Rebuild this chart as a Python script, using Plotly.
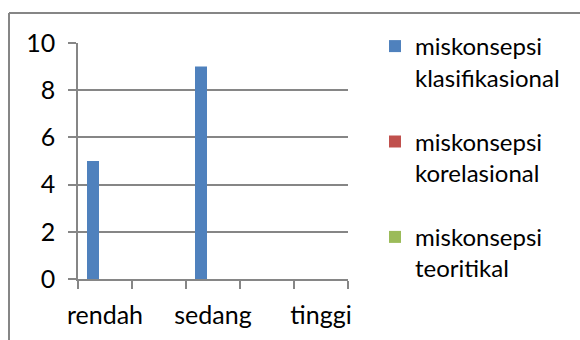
import plotly.graph_objects as go

# Data
positions = [0, 1, 2, 3, 4]
tick_labels = ["rendah", "", "sedang", "", "tinggi"]
series_names = [
    "miskonsepsi<br>klasifikasional",
    "miskonsepsi<br>korelasional",
    "miskonsepsi<br>teoritikal",
]
klasifikasional = [5, 0, 9, 0, 0]
korelasional = [0, 0, 0, 0, 0]
teoritikal = [0, 0, 0, 0, 0]
colors = ["#4F81BD", "#C0504D", "#9BBB59"]

FONT = "Lato, 'Open Sans', sans-serif"
GRAY = "#868686"
FS = 25
LFS = 24

fig = go.Figure()
for i, (name, vals) in enumerate(zip(series_names, [klasifikasional, korelasional, teoritikal])):
    fig.add_trace(go.Bar(
        x=positions, y=vals, name=name,
        marker=dict(color=colors[i], line=dict(width=0)),
        legendgroup=f"g{i}",
    ))

W, H = 580, 340

def px_x(p):
    return p / W

def px_y(p):
    return 1 - p / H

frame_axis = dict(showline=True, linecolor=GRAY, linewidth=2, showgrid=False,
                  zeroline=False, showticklabels=False, ticks="", fixedrange=True,
                  automargin=False)

fig.update_layout(
    width=W, height=H,
    margin=dict(l=0, r=0, t=0, b=0, pad=0),
    autosize=False,
    paper_bgcolor="white", plot_bgcolor="rgba(0,0,0,0)",
    barmode="group", bargap=1/3, bargroupgap=0,
    font=dict(family=FONT, size=FS, color="black"),
    showlegend=True,
    legend=dict(
        x=px_x(375), y=px_y(24), xanchor="left", yanchor="top",
        xref="paper", yref="paper",
        font=dict(family=FONT, size=LFS, color="black"),
        tracegroupgap=30, valign="top",
        itemwidth=30, bgcolor="rgba(0,0,0,0)",
        traceorder="grouped",
    ),
    xaxis=dict(
        domain=[px_x(78), px_x(348)],
        range=[-0.5, 4.5],
        tickvals=positions, ticktext=tick_labels, tickangle=0,
        ticks="", showgrid=False,
        showline=True, linecolor=GRAY, linewidth=1.5,
        zeroline=False, automargin=False,
        minor=dict(ticks="outside", tickvals=[-0.5, 0.5, 1.5, 2.5, 3.5, 4.5],
                   ticklen=8, tickcolor=GRAY, tickwidth=1.5, showgrid=False),
        ticklabelstandoff=13,
        tickfont=dict(family=FONT, size=FS, color="black"),
        fixedrange=True,
    ),
    yaxis=dict(
        domain=[px_y(279), px_y(43)],
        range=[0, 10], dtick=2, tick0=0,
        showgrid=True, gridcolor=GRAY, gridwidth=1.5,
        showline=True, linecolor=GRAY, linewidth=1.5,
        zeroline=False, automargin=False,
        ticks="outside", ticklen=8, tickcolor=GRAY, tickwidth=1.5,
        ticklabelstandoff=8,
        tickfont=dict(family=FONT, size=FS, color="black"),
        fixedrange=True,
    ),
    xaxis2=dict(domain=[px_x(9), 1], anchor="y2", side="top", **frame_axis),
    yaxis2=dict(domain=[0, px_y(13)], anchor="x2", side="left", **frame_axis),
    shapes=[
        dict(type="line", xref="paper", yref="paper",
             x0=px_x(9), x1=1, y0=px_y(13), y1=px_y(13),
             line=dict(color=GRAY, width=2), layer="above"),
        dict(type="line", xref="paper", yref="paper",
             x0=px_x(9), x1=px_x(9), y0=px_y(13), y1=0,
             line=dict(color=GRAY, width=2), layer="above"),
    ],
)

fig.write_html("out.html", config=dict(displayModeBar=False))
